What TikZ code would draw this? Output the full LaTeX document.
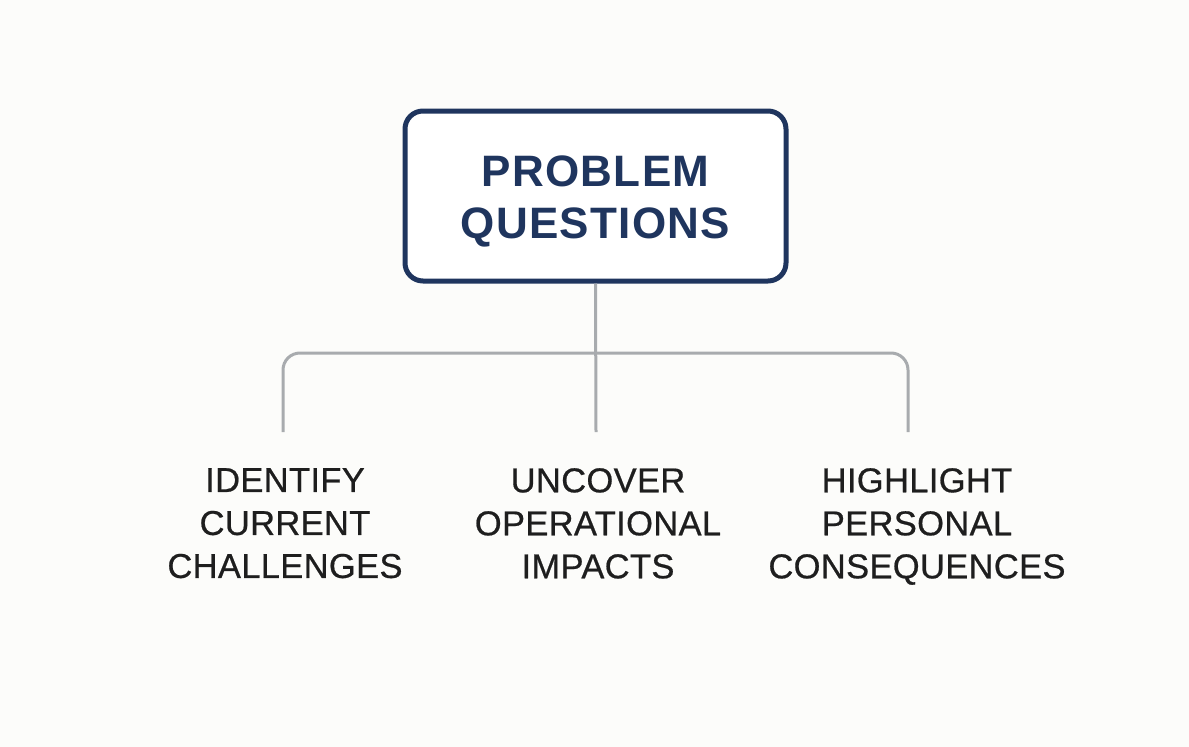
\documentclass[tikz,border=0pt]{standalone}
\usepackage{fontspec}
\setmainfont{Liberation Sans}
\definecolor{bg}{HTML}{FCFCFA}
\definecolor{navy}{HTML}{1F355E}
\definecolor{conncol}{HTML}{A8ABAE}
\definecolor{txt}{HTML}{1E1E1E}
\begin{document}
\begin{tikzpicture}[x=1pt,y=-1pt,
  titlebox/.style={draw=navy, line width=5pt, rounded corners=18pt, fill=white,
    minimum width=381pt, minimum height=170pt},
  titletext/.style={align=center, text=navy, inner sep=0pt,
    font=\fontsize{44}{52}\selectfont\bfseries\addfontfeatures{LetterSpace=3}},
  label/.style={anchor=north, inner sep=0pt, align=center, text=txt,
    font=\fontsize{34.5}{43}\selectfont\addfontfeatures{LetterSpace=1,FakeBold=0.6}},
  conn/.style={draw=conncol, line width=3pt}]
\fill[bg] (0,0) rectangle (1189,747);
\useasboundingbox (0,0) rectangle (1189,747);
\node[titlebox] (title) at (595.5,196) {};
\node[titletext] (titletext) at ([yshift=-5pt]title.center) {PROBLEM\\QUESTIONS};
\node[label] (l1) at (285,468) {IDENTIFY\\CURRENT\\CHALLENGES};
\node[label] (l2) at (598,468) {UNCOVER\\OPERATIONAL\\IMPACTS};
\node[label] (l3) at (917,468) {HIGHLIGHT\\PERSONAL\\CONSEQUENCES};
\coordinate (e1) at (283,432);
\coordinate (e2) at (596,432);
\coordinate (e3) at (908,432);
\draw[conn, rounded corners=17pt] (e1) -- (283,353) -- (908,353) -- (e3);
\draw[conn] (title.south) -- (e2);
\end{tikzpicture}
\end{document}
